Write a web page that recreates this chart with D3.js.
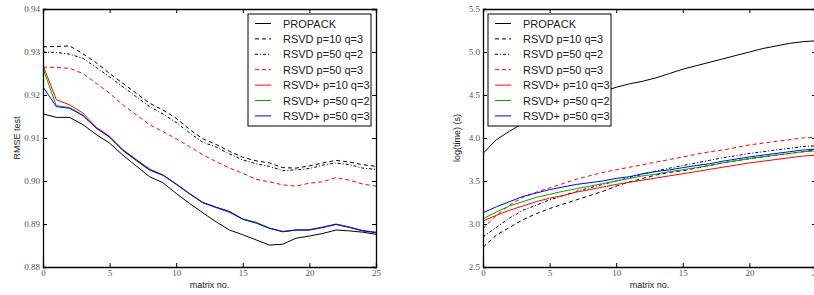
<!DOCTYPE html>
<html>
<head>
    <style>
        body { margin: 0; background: #fff; }
        .tick text { font: 9px "Liberation Serif", serif; fill: #555; }
        .axis path, .axis line { stroke: #000; }
        .label { font: 9px "Liberation Sans", Arial, sans-serif; fill: #222; text-anchor: middle; }
        .legend text { font: 11px "Liberation Sans", Arial, sans-serif; fill: #222; }
    </style>
    <script src="https://d3js.org/d3.v7.min.js"></script>
</head>
<body>
    <svg width="814" height="295"></svg>
    <script>
        var matrixNo = d3.range(0, 26);
        var seriesNames = ["PROPACK", "RSVD p=10 q=3", "RSVD p=50 q=2", "RSVD p=50 q=3",
                           "RSVD+ p=10 q=3", "RSVD+ p=50 q=2", "RSVD+ p=50 q=3"];

        // RMSE test (left panel)
        var rmsePropack = [0.9156,0.9148,0.9148,0.9131,0.9108,0.9088,0.9060,0.9035,0.9010,0.8996,0.8971,0.8948,0.8926,0.8905,0.8886,0.8875,0.8863,0.8851,0.8853,0.8867,0.8872,0.8878,0.8886,0.8884,0.8881,0.8876];
        var rmseRsvd10q3 = [0.9312,0.9313,0.9314,0.9296,0.9275,0.9250,0.9227,0.9204,0.9181,0.9165,0.9146,0.9120,0.9098,0.9085,0.9069,0.9055,0.9047,0.9042,0.9031,0.9030,0.9035,0.9042,0.9048,0.9044,0.9038,0.9034];
        var rmseRsvd50q2 = [0.9300,0.9299,0.9295,0.9285,0.9264,0.9242,0.9219,0.9196,0.9173,0.9156,0.9136,0.9112,0.9090,0.9079,0.9063,0.9049,0.9040,0.9034,0.9024,0.9026,0.9029,0.9037,0.9042,0.9038,0.9030,0.9027];
        var rmseRsvd50q3 = [0.9265,0.9264,0.9262,0.9250,0.9227,0.9204,0.9177,0.9154,0.9131,0.9115,0.9098,0.9080,0.9061,0.9045,0.9030,0.9018,0.9004,0.8998,0.8991,0.8988,0.8995,0.8998,0.9008,0.9002,0.8993,0.8988];
        var rmsePlus10q3 = [0.9269,0.9189,0.9177,0.9158,0.9125,0.9104,0.9073,0.9050,0.9028,0.9014,0.8993,0.8970,0.8949,0.8938,0.8927,0.8911,0.8903,0.8890,0.8883,0.8886,0.8887,0.8893,0.8900,0.8893,0.8885,0.8881];
        var rmsePlus50q2 = [0.9262,0.9175,0.9171,0.9153,0.9123,0.9102,0.9071,0.9047,0.9025,0.9013,0.8992,0.8970,0.8950,0.8939,0.8929,0.8912,0.8904,0.8891,0.8882,0.8886,0.8886,0.8892,0.8899,0.8893,0.8884,0.8880];
        var rmsePlus50q3 = [0.9219,0.9173,0.9169,0.9152,0.9123,0.9102,0.9071,0.9049,0.9026,0.9014,0.8993,0.8971,0.8950,0.8939,0.8929,0.8911,0.8902,0.8890,0.8882,0.8886,0.8886,0.8892,0.8899,0.8892,0.8884,0.8880];

        // log(time) (right panel)
        var timePropack = [3.82,3.98,4.08,4.17,4.25,4.32,4.38,4.44,4.49,4.54,4.59,4.63,4.66,4.70,4.75,4.80,4.84,4.88,4.92,4.96,5.00,5.04,5.07,5.10,5.12,5.13];
        var timeRsvd10q3 = [2.73,2.87,2.96,3.05,3.12,3.18,3.23,3.28,3.33,3.38,3.44,3.49,3.53,3.57,3.60,3.62,3.65,3.68,3.71,3.735,3.76,3.78,3.80,3.82,3.84,3.86];
        var timeRsvd50q2 = [2.85,2.96,3.07,3.16,3.22,3.28,3.33,3.38,3.42,3.46,3.50,3.54,3.58,3.615,3.65,3.68,3.71,3.74,3.77,3.795,3.82,3.84,3.86,3.88,3.90,3.91];
        var timeRsvd50q3 = [2.95,3.10,3.22,3.31,3.37,3.42,3.47,3.52,3.56,3.60,3.63,3.66,3.69,3.72,3.75,3.78,3.81,3.84,3.86,3.89,3.92,3.94,3.96,3.98,4.00,4.01];
        var timePlus10q3 = [3.035,3.10,3.16,3.21,3.26,3.30,3.33,3.37,3.40,3.43,3.46,3.485,3.51,3.535,3.56,3.585,3.61,3.635,3.66,3.685,3.71,3.73,3.75,3.77,3.79,3.80];
        var timePlus50q2 = [3.06,3.14,3.21,3.26,3.31,3.345,3.38,3.41,3.44,3.47,3.50,3.53,3.56,3.58,3.61,3.63,3.655,3.68,3.71,3.735,3.76,3.78,3.80,3.82,3.84,3.85];
        var timePlus50q3 = [3.13,3.20,3.26,3.32,3.36,3.40,3.43,3.46,3.48,3.50,3.53,3.55,3.585,3.61,3.63,3.655,3.68,3.70,3.73,3.755,3.78,3.80,3.82,3.84,3.86,3.87];

        var xTicks = [0, 5, 10, 15, 20, 25];
        var rmseTicks = [0.88, 0.89, 0.90, 0.91, 0.92, 0.93, 0.94];
        var timeTicks = [2.5, 3.0, 3.5, 4.0, 4.5, 5.0, 5.5];

        var styles = [
            { color: "#000", dash: null },
            { color: "#000", dash: "4,3" },
            { color: "#000", dash: "3,2,1,2" },
            { color: "#f00", dash: "4,3" },
            { color: "#f00", dash: null },
            { color: "#0a0", dash: null },
            { color: "#00f", dash: null }
        ];

        var svg = d3.select("svg");

        function panel(left, yDomain, yTicksList, yFmt, yLabel, data, legendX) {
            var width = 333, height = 258, top = 9;
            var g = svg.append("g").attr("transform", "translate(" + left + "," + top + ")");
            var x = d3.scaleLinear().domain([0, 25]).range([0, width]);
            var y = d3.scaleLinear().domain(yDomain).range([height, 0]);

            var clipId = "clip" + left;
            g.append("clipPath").attr("id", clipId)
             .append("rect").attr("width", width).attr("height", height);

            var line = d3.line().x(function(d, i) { return x(matrixNo[i]); }).y(function(d) { return y(d); });

            g.append("g").attr("clip-path", "url(#" + clipId + ")")
             .selectAll("path").data(data).enter().append("path")
             .attr("d", line)
             .attr("fill", "none")
             .attr("stroke-width", 1)
             .attr("stroke", function(d, i) { return styles[i].color; })
             .attr("stroke-dasharray", function(d, i) { return styles[i].dash; });

            // box with inward ticks on every side
            g.append("g").attr("class", "axis").attr("transform", "translate(0," + height + ")")
             .call(d3.axisBottom(x).tickValues(xTicks).tickSize(-4).tickPadding(3));
            g.append("g").attr("class", "axis")
             .call(d3.axisTop(x).tickValues(xTicks).tickSize(-4).tickFormat(""));
            g.append("g").attr("class", "axis")
             .call(d3.axisLeft(y).tickValues(yTicksList).tickSize(-4).tickPadding(3).tickFormat(d3.format(yFmt)));
            g.append("g").attr("class", "axis").attr("transform", "translate(" + width + ",0)")
             .call(d3.axisRight(y).tickValues(yTicksList).tickSize(-4).tickFormat(""));
            g.selectAll(".axis path").attr("stroke-width", 1.3);

            g.append("text").attr("class", "label")
             .attr("x", width / 2).attr("y", height + 21).text("matrix no.");
            g.append("text").attr("class", "label")
             .attr("transform", "translate(" + (-23) + "," + (height / 2) + ") rotate(-90)")
             .text(yLabel);

            // legend
            var lg = svg.append("g").attr("class", "legend").attr("transform", "translate(" + legendX + ",14)");
            lg.append("rect").attr("width", 123).attr("height", 112)
              .attr("fill", "#fff").attr("stroke", "#000").attr("stroke-width", 1);
            seriesNames.forEach(function(name, i) {
                var yy = 9.5 + i * 15.4;
                lg.append("line").attr("x1", 7).attr("x2", 23).attr("y1", yy).attr("y2", yy)
                  .attr("stroke", styles[i].color).attr("stroke-width", 1)
                  .attr("stroke-dasharray", styles[i].dash);
                lg.append("text").attr("x", 35).attr("y", yy + 4).text(name);
            });
        }

        panel(43, [0.88, 0.94], rmseTicks, ".2f", "RMSE test",
              [rmsePropack, rmseRsvd10q3, rmseRsvd50q2, rmseRsvd50q3, rmsePlus10q3, rmsePlus50q2, rmsePlus50q3], 248);
        panel(483, [2.5, 5.5], timeTicks, ".1f", "log(time) (s)",
              [timePropack, timeRsvd10q3, timeRsvd50q2, timeRsvd50q3, timePlus10q3, timePlus50q2, timePlus50q3], 488);
    </script>
</body>
</html>
